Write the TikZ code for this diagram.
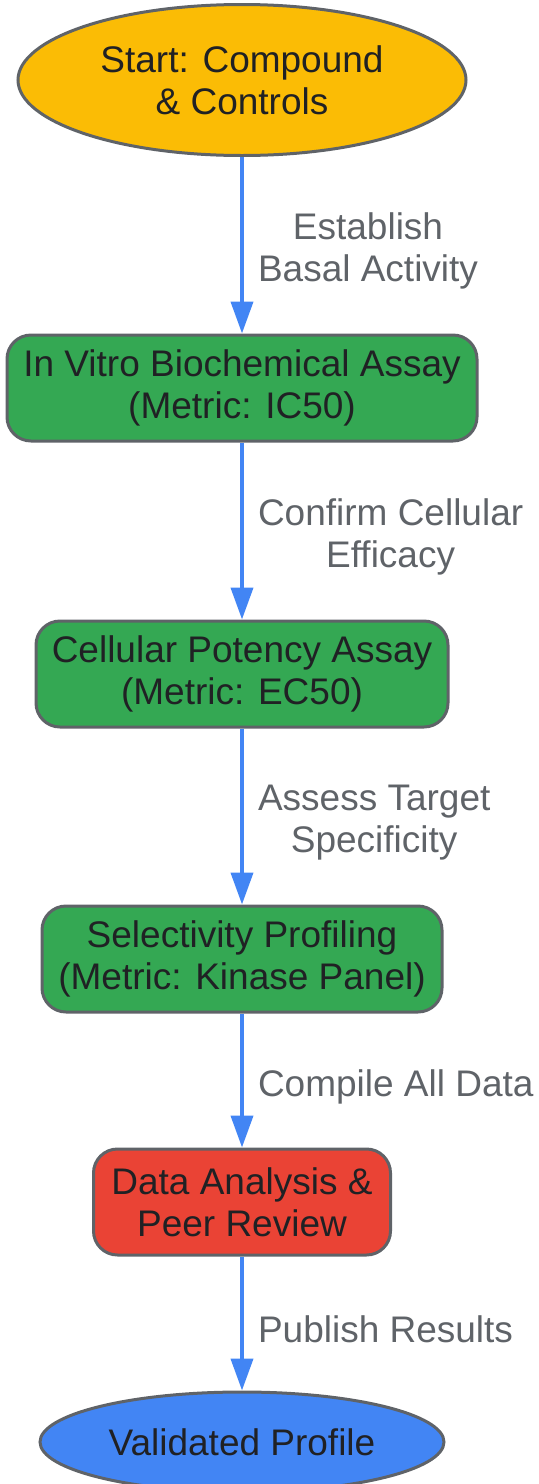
\documentclass[tikz,border=0pt]{standalone}
\usepackage{fontspec}
\setmainfont{Liberation Sans}
\usetikzlibrary{shapes.geometric,arrows.meta}

\definecolor{startyellow}{HTML}{FBBC05}
\definecolor{assaygreen}{HTML}{34A853}
\definecolor{reviewred}{HTML}{EA4335}
\definecolor{endblue}{HTML}{4285F4}
\definecolor{flowblue}{HTML}{4285F4}
\definecolor{bordergray}{HTML}{5F6368}
\definecolor{labelgray}{HTML}{5F6368}
\definecolor{nodetext}{HTML}{202124}

\begin{document}
\begin{tikzpicture}[x=0.5pt,y=-0.5pt,
    every node/.style={font=\fontsize{18.5pt}{21pt}\selectfont, text=nodetext, align=center},
    terminal/.style={ellipse, draw=bordergray, line width=1.5pt, inner sep=0pt},
    stage/.style={rectangle, rounded corners=12pt, draw=bordergray, line width=1.5pt, inner sep=0pt, minimum height=53pt},
    flow/.style={-{Triangle[width=11pt,length=16pt]}, color=flowblue, line width=2pt},
    note/.style={right, text=labelgray, inner sep=0pt, xshift=7pt, yshift=-3pt}]
    \useasboundingbox (0,0) rectangle (539,1484);

    \node[terminal, fill=startyellow, minimum width=224pt, minimum height=75.5pt] at (242, 80)(start){Start: Compound\\\& Controls};
    \node[stage, fill=assaygreen, minimum width=235pt] at (242, 388)(biochem){In Vitro Biochemical Assay\\(Metric: IC50)};
    \node[stage, fill=assaygreen, minimum width=206pt] at (242, 674)(cellular){Cellular Potency Assay\\(Metric: EC50)};
    \node[stage, fill=assaygreen, minimum width=200pt] at (242, 959)(selectivity){Selectivity Profiling\\(Metric: Kinase Panel)};
    \node[stage, fill=reviewred, minimum width=148.5pt] at (242, 1202)(review){Data Analysis \&\\Peer Review};
    \node[terminal, fill=endblue, minimum width=202pt, minimum height=50pt] at (242, 1442)(profile){Validated Profile};

    \path
        (start)edge[flow] node[note]{Establish\\Basal Activity}(biochem)
        (biochem)edge[flow] node[note]{Confirm Cellular\\Efficacy}(cellular)
        (cellular)edge[flow] node[note]{Assess Target\\Specificity}(selectivity)
        (selectivity)edge[flow] node[note]{Compile All Data}(review)
        (review)edge[flow] node[note]{Publish Results}(profile)
        ;
\end{tikzpicture}
\end{document}
